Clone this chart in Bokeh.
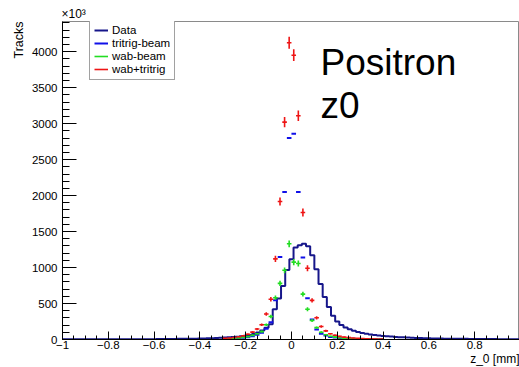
import numpy as np
from bokeh.plotting import figure
from bokeh.models import FixedTicker, Label, Legend, LegendItem, Range1d, Title
from bokeh.embed import file_html
from bokeh.resources import INLINE

# ---------------- data ----------------
# Data histogram: 111 bins of width 2/110 centred on k*w, k = -55..55
data_bin_width = 2.0 / 110
data_left = [2, 2, 2, 2, 2, 2, 2, 2, 2, 2, 3, 3, 3, 3, 3, 3, 4, 4, 4, 4, 5, 5,
             5, 6, 6, 7, 7, 8, 9, 9, 10, 11, 12, 14, 15, 17, 19, 21, 24, 27,
             30, 34, 39, 45, 52, 62, 76, 96, 125, 165, 212, 420, 570, 745, 965]
data_center = [1115]
data_right = [1280, 1310, 1330, 1295, 1170, 975, 770, 590, 450, 330, 250, 200,
              168, 143, 122, 105, 92, 80, 70, 62, 55, 49, 44, 40, 36, 33, 30,
              27, 24, 22, 20, 18, 16, 15, 14, 13, 12, 11, 10, 10, 9, 9, 8, 8,
              7, 7, 6, 6, 6, 5, 5, 5, 4, 4, 4]

# MC samples: bins of width 0.02
mc_bin_width = 0.02
mc_x = [-0.29, -0.27, -0.25, -0.23, -0.21, -0.19, -0.17, -0.15, -0.13, -0.11,
        -0.09, -0.07, -0.05, -0.03, -0.01, 0.01, 0.03, 0.05, 0.07, 0.09, 0.11,
        0.13, 0.15, 0.17, 0.19, 0.21, 0.23, 0.25, 0.27, 0.29, 0.31, 0.33,
        0.35, 0.37, 0.39]
tritrig_beam = [7, 9, 13, 17, 23, 32, 44, 65, 95, 150, 240, 545, 1148, 2050,
                2799, 2859, 2050, 1140, 572, 279, 139, 81, 54, 35, 27, 20, 15,
                12, 9, 7, 6, 5, 4, 3, 2]
wab_beam = [8, 11, 15, 21, 29, 40, 58, 80, 110, 205, 320, 580, 780, 962,
            1330, 1075, 1056, 630, 420, 265, 165, 100, 66, 45, 33, 24, 18, 14,
            11, 9, 7, 5, 4, 4, 3]
wab_tritrig = [15, 20, 28, 38, 52, 72, 102, 145, 205, 355, 560, 1120, 1918,
               3022, 4124, 3951, 3110, 1765, 990, 544, 302, 181, 120, 80, 60,
               44, 33, 26, 20, 16, 13, 10, 8, 7, 5]

x_ticks = [-1.0, -0.8, -0.6, -0.4, -0.2, 0.0, 0.2, 0.4, 0.6, 0.8]
x_tick_labels = ["\u22121", "\u22120.8", "\u22120.6", "\u22120.4", "\u22120.2",
                 "0", "0.2", "0.4", "0.6", "0.8"]
y_ticks = [0, 500, 1000, 1500, 2000, 2500, 3000, 3500, 4000]

FONT = "Liberation Sans"

# ---------------- figure ----------------
p = figure(width=519, height=367, output_backend="svg", toolbar_location=None,
           x_range=Range1d(-1.0, 0.996), y_range=Range1d(0, 4420),
           min_border_left=62, min_border_right=0, min_border_top=21,
           min_border_bottom=0)
p.background_fill_color = "white"
p.border_fill_color = "white"
p.outline_line_color = "#8a8a8a"
p.outline_line_width = 1
p.xgrid.visible = False
p.ygrid.visible = False

# "x10^3" multiplier above the y axis
p.title.text = "\u00d710\u00b3"
p.title.align = "left"
p.title.text_font = FONT
p.title.text_font_size = "12px"
p.title.text_font_style = "normal"
p.title.text_color = "black"
p.title.standoff = 1
p.title.offset = -1

# y-axis title at the top (left side), x-axis title at the right (below)
p.add_layout(Title(text="Tracks", align="right", text_font=FONT,
                   text_font_size="12.5px", text_font_style="normal",
                   text_color="black", standoff=6), "left")

xt = FixedTicker(ticks=x_ticks,
                 minor_ticks=[round(-1 + 0.05 * i, 2) for i in range(41)])
p.xaxis.ticker = xt
p.xaxis.major_label_overrides = {t: s for t, s in zip(x_ticks, x_tick_labels)}
yt = FixedTicker(ticks=y_ticks, minor_ticks=list(range(0, 4500, 100)))
p.yaxis.ticker = yt

for ax in (p.xaxis[0], p.yaxis[0]):
    ax.axis_line_color = "black"
    ax.major_tick_line_color = "black"
    ax.minor_tick_line_color = "black"
    ax.major_tick_out = 0
    ax.minor_tick_out = 0
    ax.major_label_text_font = FONT
    ax.major_label_text_font_size = "11.5px"
    ax.major_label_text_color = "black"
p.xaxis.major_tick_in = 8
p.xaxis.minor_tick_in = 4
p.xaxis.major_label_standoff = 1
p.yaxis.major_tick_in = 14
p.yaxis.minor_tick_in = 7
p.yaxis.major_label_standoff = 5

p.add_layout(Title(text="z_0 [mm]", align="right", text_font=FONT,
                   text_font_size="12px", text_font_style="normal",
                   text_color="black", vertical_align="top", standoff=0),
             "below")

# Data histogram (step)
counts = np.array(data_left + data_center + data_right, dtype=float)
n_half = len(data_left)
edges = (np.arange(-n_half, n_half + 2) - 0.5) * data_bin_width
r_data = p.step(edges, np.append(counts, counts[-1]), mode="after",
                line_color="#16168a", line_width=2)

mx = np.array(mc_x)
half = mc_bin_width / 2


def mc_points(vals, color, err_scale, lw):
    v = np.array(vals, dtype=float)
    e = np.sqrt(v) * err_scale
    rh = p.segment(mx - half, v, mx + half, v, line_color=color, line_width=lw)
    if err_scale > 0:
        p.segment(mx, v - e, mx, v + e, line_color=color, line_width=lw)
    return rh


r_blue = mc_points(tritrig_beam, "#1010e8", 0, 2)
r_green = mc_points(wab_beam, "#22dd22", 1.3, 1.6)
r_red = mc_points(wab_tritrig, "#ee1515", 1.3, 1.6)

legend = Legend(items=[
    LegendItem(label="Data", renderers=[r_data]),
    LegendItem(label="tritrig-beam", renderers=[r_blue]),
    LegendItem(label="wab-beam", renderers=[r_green]),
    LegendItem(label="wab+tritrig", renderers=[r_red]),
])
legend.location = (27, 259)
legend.margin = 0
legend.padding = 4
legend.spacing = 1
legend.label_height = 12
legend.glyph_height = 12
legend.glyph_width = 14
legend.label_standoff = 4
legend.label_text_font = FONT
legend.label_text_font_size = "11.5px"
legend.label_text_color = "black"
legend.border_line_color = "#444444"
legend.border_line_width = 1
legend.background_fill_color = "white"
legend.background_fill_alpha = 1
p.add_layout(legend, "center")

# Slide text inside the frame
p.add_layout(Label(x=258, y=277, x_units="screen", y_units="screen",
                   text="Positron", text_font=FONT, text_font_size="37px",
                   text_baseline="alphabetic", text_color="black"))
p.add_layout(Label(x=258, y=234, x_units="screen", y_units="screen",
                   text="z0", text_font=FONT, text_font_size="37px",
                   text_baseline="alphabetic", text_color="black"))

open("out.html", "w").write(file_html(p, INLINE))
